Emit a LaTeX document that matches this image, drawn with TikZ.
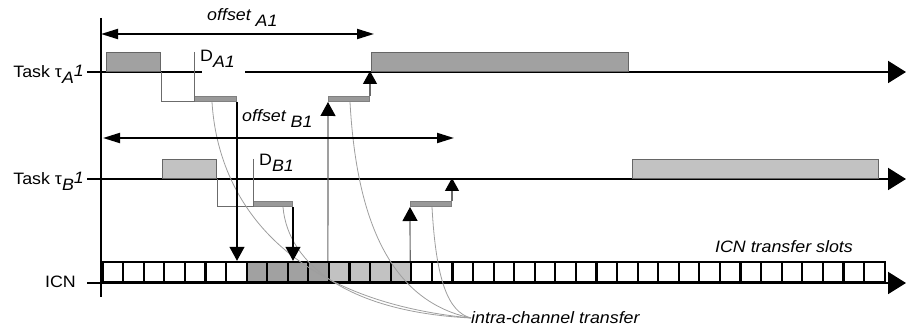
\documentclass[tikz,border=0pt]{standalone}
\usepackage{fontspec}
\setmainfont{Liberation Sans}[FakeStretch=1.08]
\usetikzlibrary{arrows.meta}

\definecolor{taskdark}{gray}{0.63}
\definecolor{tasklight}{gray}{0.76}
\definecolor{edgegray}{gray}{0.40}
\definecolor{linkgray}{gray}{0.42}
\definecolor{barfill}{gray}{0.60}
\definecolor{baredge}{gray}{0.50}
\definecolor{curvegray}{gray}{0.62}

% lowered / raised italic indices
\newcommand{\lowsub}[1]{\raisebox{-0.33em}{\itshape #1}}
\newcommand{\hisup}[1]{\raisebox{0.08em}{\itshape #1}}

\begin{document}
\begin{tikzpicture}[x=1pt,y=-1pt,
  font=\fontsize{16.5}{19}\selectfont,
  timeline/.style={line width=2pt,-{Triangle[length=18pt,width=22pt]}},
  axisline/.style={line width=2.4pt},
  taskbox/.style={draw=edgegray,line width=1pt,inner sep=0pt,anchor=south west,minimum height=19pt},
  msgbar/.style={draw=baredge,fill=barfill,line width=1pt,inner sep=0pt,anchor=south west,minimum height=5pt},
  link/.style={draw=linkgray,line width=1pt},
  downarrow/.style={line width=1.2pt,-{Triangle[length=14pt,width=15pt]}},
  uparrow/.style={draw=linkgray,line width=1.2pt,-{Triangle[length=14pt,width=15pt,color=black,fill=black]}},
  shortup/.style={draw=linkgray,line width=1.2pt,-{Triangle[length=13pt,width=14pt,color=black,fill=black]}},
  offsetarrow/.style={line width=2pt,{Triangle[length=17pt,width=10pt]}-{Triangle[length=17pt,width=10pt]}},
  cell/.style={draw=black,line width=2.2pt,inner sep=0pt,anchor=south west,minimum width=20.58pt,minimum height=20pt},
  transfer/.style={draw=curvegray,line width=0.8pt},
  lbl/.style={inner sep=0pt},
]
\useasboundingbox (0,0) rectangle (906,336);

% ---------- named points ----------
\coordinate (axtop) at (101,18);
\coordinate (axbot) at (101,297);
\coordinate (lAstart) at (87,72);
\coordinate (lAgapL) at (202,72);
\coordinate (lAgapR) at (245,72);
\coordinate (lAend) at (906,72);
\coordinate (lBstart) at (87,179);
\coordinate (lBend) at (906,179);
\coordinate (icnstart) at (87,283);
\coordinate (icnend) at (906,283);
\coordinate (da1top) at (194,52);
\coordinate (db1top) at (253,159);
\coordinate (oa1l) at (101,34);
\coordinate (oa1r) at (374,34);
\coordinate (ob1l) at (103,138);
\coordinate (ob1r) at (454,138);

% ---------- ICN transfer slots ----------
\foreach \i in {0,...,37}{
  \ifnum\i<7 \def\cellfill{white}\else
    \ifnum\i<11 \def\cellfill{taskdark}\else
      \ifnum\i<15 \def\cellfill{tasklight}\else \def\cellfill{white}\fi\fi\fi
  \node[cell,fill=\cellfill] (c\i) at ({101.5+\i*20.5789},283) {};
}

% ---------- time lines and axis ----------
\draw[line width=2pt] (lAstart) -- (lAgapL);
\draw[timeline] (lAgapR) -- (lAend);
\draw[timeline] (lBstart) -- (lBend);
\draw[timeline] (icnstart) -- (icnend);
\draw[axisline] (axtop) -- (axbot);

% ---------- task executions ----------
\node[taskbox,fill=taskdark,minimum width=54pt] (a1) at (106,72) {};
\node[taskbox,fill=taskdark,minimum width=257pt] (a2) at (371,72) {};
\node[taskbox,fill=tasklight,minimum width=54pt] (b1) at (162,179) {};
\node[taskbox,fill=tasklight,minimum width=246pt] (b2) at (632,179) {};

% ---------- messages ----------
\node[msgbar,minimum width=42pt] (ma1) at (194,102) {};
\node[msgbar,minimum width=41pt] (ma2) at (328,102) {};
\node[msgbar,minimum width=39pt] (mb1) at (253,207) {};
\node[msgbar,minimum width=41pt] (mb2) at (410,207) {};

\draw[link] (a1.south east) |- (ma1.south west);
\draw[link] (da1top) -- (ma1.south west);
\draw[link] (b1.south east) |- (mb1.south west);
\draw[link] (db1top) -- (mb1.south west);

% ---------- intra-channel transfer curves ----------
\node[lbl,anchor=west] (intra) at (471,318) {\itshape intra-channel transfer};
\coordinate (ca1) at (212,102);
\coordinate (ca2) at (350,102);
\coordinate (cb1) at (283,207);
\coordinate (cb2) at (432,207);
\draw[transfer] (ca1) .. controls (218,200) and (285,300) .. (intra.west);
\draw[transfer] (cb1) .. controls (288,265) and (350,312) .. (intra.west);
\draw[transfer] (ca2) .. controls (356,210) and (385,300) .. (intra.west);
\draw[transfer] (cb2) .. controls (436,280) and (448,312) .. (intra.west);

% ---------- transfers to and from the ICN ----------
\draw[downarrow] (ma1.south east) -- (ma1.south east |- c6.north);
\draw[downarrow] (mb1.south east) -- (mb1.south east |- c9.north);
\draw[uparrow] (c11.north west) -- (ma2.south west);
\draw[uparrow] (c15.north west) -- (mb2.south west);
\draw[shortup] (ma2.north east) -- ([yshift=1pt]ma2.north east |- a2.south);
\draw[shortup] (mb2.north east) -- ([yshift=1pt]mb2.north east |- b2.south);

% ---------- offsets ----------
\draw[offsetarrow] (oa1l) -- (oa1r);
\draw[offsetarrow] (ob1l) -- (ob1r);
\node[lbl,anchor=base west] (offA) at (207,21) {\itshape offset \lowsub{A1}};
\node[lbl,anchor=base west] (offB) at (242,122) {\itshape offset \lowsub{B1}};

% ---------- labels ----------
\node[lbl,anchor=base west] (dA) at (200,62) {D\lowsub{A1}};
\node[lbl,anchor=base west] (dB) at (259,166) {D\lowsub{B1}};
\node[lbl,anchor=base east] (tA) at (84,78) {Task τ\lowsub{A}\hisup{1}};
\node[lbl,anchor=base east] (tB) at (84,185) {Task τ\lowsub{B}\hisup{1}};
\node[lbl,anchor=base east] (icn) at (76,288) {ICN};
\node[lbl,anchor=base east] (slots) at (853,253) {\itshape ICN transfer slots};
\end{tikzpicture}
\end{document}
